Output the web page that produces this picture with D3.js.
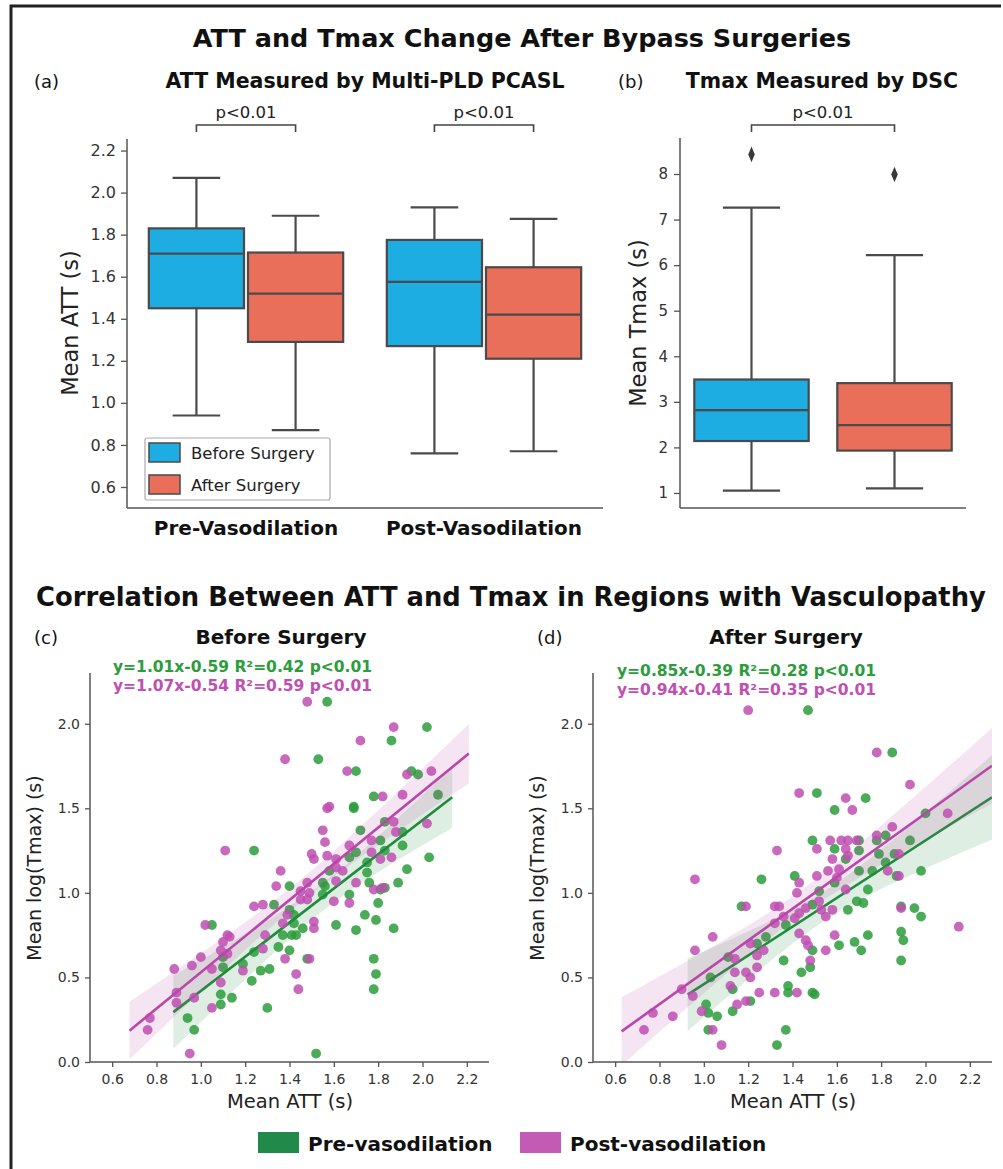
<!DOCTYPE html>
<html>
<head>
<meta charset="utf-8">
<script src="https://cdn.jsdelivr.net/npm/d3@7"></script>
<style>
  body { margin: 0; background: #fff; }
  text { font-family: "DejaVu Sans", sans-serif; }
</style>
</head>
<body>
<div id="chart"></div>
<script>
// ---- data ----
const groups = ["Pre-Vasodilation", "Post-Vasodilation"];
const surgery = ["Before Surgery", "After Surgery"];
// box stats: [lower whisker, q1, median, q3, upper whisker]
const attBefore = [[0.94, 1.45, 1.71, 1.83, 2.07], [0.76, 1.27, 1.575, 1.775, 1.93]];
const attAfter = [[0.87, 1.29, 1.52, 1.715, 1.89], [0.77, 1.21, 1.42, 1.645, 1.875]];
const tmaxStats = [[1.05, 2.14, 2.82, 3.49, 7.26], [1.1, 1.93, 2.49, 3.41, 6.22]];
const tmaxOutliers = [[8.43], [7.99]];
const attTicks = [0.6, 0.8, 1.0, 1.2, 1.4, 1.6, 1.8, 2.0, 2.2];
const tmaxTicks = [1, 2, 3, 4, 5, 6, 7, 8];
const corrXTicks = [0.6, 0.8, 1.0, 1.2, 1.4, 1.6, 1.8, 2.0, 2.2];
const corrYTicks = [0.0, 0.5, 1.0, 1.5, 2.0];
const vasoLabels = ["Pre-vasodilation", "Post-vasodilation"];

// (c) before surgery, [mean ATT, mean log(Tmax)]
const cPre = [[1.57,2.13],[2.02,1.98],[1.86,1.90],[1.53,1.79],[1.70,1.72],[1.95,1.72],[1.98,1.70],[1.78,1.57],[2.07,1.58],[1.69,1.51],[1.69,1.50],[1.83,1.42],[1.72,1.37],[1.91,1.36],[1.81,1.31],[1.91,1.28],[1.24,1.25],[1.67,1.21],[1.70,1.24],[1.83,1.25],[2.03,1.21],[1.58,1.13],[1.75,1.18],[1.75,1.12],[1.93,1.14],[1.40,1.04],[1.55,1.06],[1.56,1.04],[1.76,1.06],[1.81,1.02],[1.83,1.03],[1.89,1.06],[1.33,0.93],[1.55,0.99],[1.67,0.99],[1.80,0.94],[1.05,0.81],[1.40,0.90],[1.42,0.87],[1.42,0.82],[1.46,0.79],[1.61,0.81],[1.74,0.87],[1.79,0.84],[1.70,0.78],[1.87,0.79],[1.37,0.75],[1.41,0.75],[1.43,0.75],[1.35,0.68],[1.40,0.66],[1.24,0.65],[1.10,0.62],[1.10,0.56],[1.19,0.58],[1.27,0.54],[1.31,0.55],[1.48,0.61],[1.78,0.61],[1.23,0.48],[1.79,0.52],[1.78,0.43],[1.09,0.40],[1.14,0.38],[1.09,0.34],[1.30,0.32],[0.94,0.26],[0.97,0.19],[1.52,0.05]];
const cPost = [[1.48,2.13],[1.87,1.98],[1.72,1.90],[1.38,1.79],[1.66,1.72],[1.93,1.70],[2.04,1.72],[1.82,1.57],[1.91,1.58],[1.58,1.51],[1.57,1.50],[1.87,1.42],[2.02,1.41],[1.55,1.37],[1.88,1.36],[1.56,1.30],[1.67,1.28],[1.77,1.31],[1.11,1.25],[1.50,1.23],[1.51,1.20],[1.57,1.22],[1.77,1.24],[1.81,1.20],[1.86,1.21],[1.36,1.13],[1.61,1.20],[1.61,1.15],[1.64,1.13],[1.48,1.06],[1.34,1.04],[1.45,1.01],[1.49,1.00],[1.61,1.07],[1.70,1.06],[1.78,1.02],[1.82,1.03],[1.24,0.92],[1.28,0.93],[1.45,0.96],[1.48,0.96],[1.60,0.95],[1.67,0.94],[1.02,0.81],[1.39,0.87],[1.37,0.82],[1.51,0.83],[1.51,0.79],[1.12,0.75],[1.13,0.74],[1.29,0.75],[1.10,0.71],[1.09,0.66],[1.12,0.64],[1.28,0.67],[1.00,0.62],[0.96,0.57],[0.88,0.55],[1.05,0.55],[1.19,0.54],[1.38,0.61],[1.49,0.61],[1.09,0.47],[1.43,0.52],[1.44,0.43],[0.89,0.41],[0.89,0.35],[0.97,0.38],[1.05,0.32],[0.77,0.26],[0.76,0.19],[0.95,0.05]];
// (d) after surgery
const dPre = [[1.47,2.08],[1.85,1.83],[1.51,1.59],[1.73,1.56],[1.59,1.49],[2.00,1.47],[1.82,1.34],[1.49,1.31],[1.70,1.31],[1.78,1.31],[1.59,1.26],[1.70,1.25],[1.93,1.31],[1.79,1.23],[1.86,1.23],[1.82,1.18],[1.64,1.20],[1.70,1.13],[1.76,1.13],[1.98,1.13],[1.26,1.08],[1.41,1.10],[1.59,1.06],[1.52,1.01],[1.74,1.02],[1.87,1.10],[1.17,0.92],[1.49,0.93],[1.65,0.90],[1.69,0.95],[1.72,0.94],[1.89,0.92],[1.95,0.91],[1.98,0.86],[1.37,0.81],[1.24,0.70],[1.28,0.74],[1.61,0.69],[1.68,0.71],[1.74,0.75],[1.89,0.77],[1.90,0.72],[1.71,0.66],[1.11,0.62],[1.36,0.60],[1.49,0.66],[1.89,0.60],[1.03,0.50],[1.44,0.53],[1.48,0.56],[1.13,0.43],[1.38,0.45],[1.38,0.41],[1.49,0.41],[1.50,0.40],[1.01,0.34],[1.02,0.29],[1.06,0.27],[1.13,0.30],[1.21,0.36],[1.02,0.19],[1.37,0.19],[1.33,0.10]];
const dPost = [[1.20,2.08],[1.78,1.83],[1.93,1.64],[1.43,1.59],[1.64,1.56],[1.67,1.49],[2.10,1.47],[1.85,1.39],[1.78,1.34],[1.57,1.31],[1.62,1.31],[1.65,1.31],[1.69,1.31],[1.33,1.25],[1.51,1.26],[1.64,1.26],[1.88,1.23],[1.65,1.22],[1.58,1.20],[1.56,1.13],[1.61,1.14],[1.83,1.13],[0.96,1.08],[1.43,1.06],[1.51,1.10],[1.60,1.09],[1.42,1.00],[1.64,1.02],[1.88,1.10],[1.19,0.92],[1.32,0.92],[1.34,0.92],[1.46,0.91],[1.52,0.95],[1.53,0.90],[1.58,0.90],[1.89,0.91],[1.32,0.82],[1.36,0.86],[1.43,0.88],[1.41,0.85],[1.55,0.86],[1.04,0.74],[1.21,0.70],[1.43,0.76],[1.46,0.72],[1.47,0.69],[1.59,0.75],[0.96,0.66],[1.14,0.61],[1.24,0.63],[1.27,0.66],[1.48,0.60],[1.55,0.66],[1.14,0.53],[1.19,0.53],[1.21,0.50],[1.24,0.56],[0.90,0.43],[1.12,0.45],[1.25,0.41],[1.32,0.41],[1.42,0.41],[0.95,0.39],[0.99,0.30],[0.77,0.29],[0.86,0.27],[1.15,0.34],[1.19,0.36],[0.73,0.19],[1.04,0.19],[1.08,0.10],[2.15,0.80]];

// fitted lines [slope, intercept] and the x span each line is drawn over
const cFits = [[1.01, -0.59], [1.07, -0.54]];
const dFits = [[0.85, -0.39], [0.94, -0.41]];
const cSpans = [[0.876, 2.134], [0.678, 2.209]];
const dSpans = [[0.927, 2.30], [0.629, 2.30]];
const cEquations = ["y=1.01x-0.59 R²=0.42 p<0.01", "y=1.07x-0.54 R²=0.59 p<0.01"];
const dEquations = ["y=0.85x-0.39 R²=0.28 p<0.01", "y=0.94x-0.41 R²=0.35 p<0.01"];

// ---- styling ----
const boxFill = ["#1DADE2", "#EA6F5A"];
const boxLine = "#4a4a4a";
const dotColor = ["#2c9c3c", "#c04fb2"];
const lineColor = ["#1f8b3b", "#b947a9"];
const legendColor = ["#21894a", "#c35bb5"];
const tickColor = "#333";
const spineColor = "#555";

const W = 1003, H = 1169;
const svg = d3.select("#chart").append("svg")
    .attr("width", W).attr("height", H);
svg.append("rect").attr("width", W).attr("height", H).attr("fill", "#fff");

// frame around the figure (left and top edges show)
svg.append("path")
    .attr("d", "M11,1169V6H1001")
    .attr("fill", "none").attr("stroke", "#222").attr("stroke-width", 3);

function txt(x, y, s, size, opts = {}) {
    return svg.append("text")
        .attr("x", x).attr("y", y)
        .attr("text-anchor", opts.anchor || "middle")
        .attr("font-size", size)
        .attr("font-weight", opts.bold ? "bold" : "normal")
        .attr("fill", opts.fill || "#111")
        .attr("transform", opts.rotate ? `rotate(-90 ${x} ${y})` : null)
        .text(s);
}

function styleAxis(g, fontSize) {
    g.select(".domain").attr("stroke", spineColor).attr("stroke-width", 1.5);
    g.selectAll(".tick line").attr("stroke", spineColor).attr("stroke-width", 1.3);
    g.selectAll(".tick text").attr("fill", tickColor).attr("font-size", fontSize)
        .attr("font-family", "DejaVu Sans");
}

// ---- titles ----
txt(522, 47, "ATT and Tmax Change After Bypass Surgeries", 25.5, {bold: true});
txt(34, 88, "(a)", 18, {anchor: "start"});
txt(365, 88, "ATT Measured by Multi-PLD PCASL", 20.5, {bold: true});
txt(618, 88, "(b)", 18, {anchor: "start"});
txt(822, 88, "Tmax Measured by DSC", 20.5, {bold: true});

// ---- a simple box drawer ----
function drawBox(cx, w, st, fill, y) {
    const g = svg.append("g");
    const [lo, q1, med, q3, hi] = st;
    g.append("line").attr("x1", cx).attr("x2", cx).attr("y1", y(q3)).attr("y2", y(hi));
    g.append("line").attr("x1", cx).attr("x2", cx).attr("y1", y(q1)).attr("y2", y(lo));
    g.append("line").attr("x1", cx - w / 4).attr("x2", cx + w / 4).attr("y1", y(hi)).attr("y2", y(hi));
    g.append("line").attr("x1", cx - w / 4).attr("x2", cx + w / 4).attr("y1", y(lo)).attr("y2", y(lo));
    g.append("rect").attr("x", cx - w / 2).attr("width", w)
        .attr("y", y(q3)).attr("height", y(q1) - y(q3)).attr("fill", fill);
    g.append("line").attr("x1", cx - w / 2).attr("x2", cx + w / 2).attr("y1", y(med)).attr("y2", y(med));
    g.selectAll("line, rect").attr("stroke", boxLine).attr("stroke-width", 2.2);
    return g;
}

function bracket(xa, xb, yLine, label) {
    svg.append("path")
        .attr("d", `M${xa},${yLine + 7}V${yLine}H${xb}V${yLine + 7}`)
        .attr("fill", "none").attr("stroke", "#444").attr("stroke-width", 1.6);
    txt((xa + xb) / 2, yLine - 7, label, 16.5, {fill: "#222"});
}

// ---- panel (a) ----
const ya = d3.scaleLinear().domain([0.5, 2.255]).range([508, 139]);
const xa = d3.scaleBand().domain(groups).range([127, 603]);
const xaHue = d3.scaleBand().domain(surgery).range([0, xa.bandwidth()])
    .paddingInner(0.04).paddingOuter(0.22);
const attStats = [attBefore, attAfter];
groups.forEach((grp, gi) => {
    surgery.forEach((s, si) => {
        const cx = xa(grp) + xaHue(s) + xaHue.bandwidth() / 2;
        drawBox(cx, xaHue.bandwidth(), attStats[si][gi], boxFill[si], ya);
    });
    const c0 = xa(grp) + xaHue(surgery[0]) + xaHue.bandwidth() / 2;
    const c1 = xa(grp) + xaHue(surgery[1]) + xaHue.bandwidth() / 2;
    bracket(c0, c1, 125, "p<0.01");
});
const axA = svg.append("g").attr("transform", "translate(127,0)")
    .call(d3.axisLeft(ya).tickValues(attTicks).tickFormat(d3.format(".1f")).tickSize(6).tickPadding(5));
styleAxis(axA, 16);
axA.select(".domain").attr("d", `M0,${ya.range()[1]}V${ya.range()[0]}`);
svg.append("line").attr("x1", 127).attr("x2", 603).attr("y1", 508).attr("y2", 508)
    .attr("stroke", spineColor).attr("stroke-width", 1.5);
groups.forEach(grp => txt(xa(grp) + xa.bandwidth() / 2, 535, grp, 20, {bold: true}));
txt(78, 323, "Mean ATT (s)", 22.5, {rotate: true, fill: "#222"});

// legend in (a)
const lg = svg.append("g").attr("transform", "translate(145,438)");
lg.append("rect").attr("width", 185).attr("height", 62).attr("rx", 2)
    .attr("fill", "#fff").attr("stroke", "#aaa").attr("stroke-width", 1.2);
surgery.forEach((s, i) => {
    lg.append("rect").attr("x", 4).attr("y", 5 + i * 32).attr("width", 31).attr("height", 19)
        .attr("fill", boxFill[i]).attr("stroke", boxLine).attr("stroke-width", 1.5);
    lg.append("text").attr("x", 46).attr("y", 21 + i * 32).attr("font-size", 16.5)
        .attr("fill", "#222").text(s);
});

// ---- panel (b) ----
const yb = d3.scaleLinear().domain([0.67, 8.79]).range([508, 138]);
const xb = d3.scaleBand().domain(surgery).range([680, 966]).paddingInner(0.2).paddingOuter(0.1);
surgery.forEach((s, i) => {
    const cx = xb(s) + xb.bandwidth() / 2;
    drawBox(cx, xb.bandwidth(), tmaxStats[i], boxFill[i], yb);
    svg.selectAll(null).data(tmaxOutliers[i]).enter().append("path")
        .attr("d", d3.symbol(d3.symbolDiamond, 70))
        .attr("transform", d => `translate(${cx},${yb(d)}) scale(0.72,1)`)
        .attr("fill", "#3a3a3a");
});
bracket(xb(surgery[0]) + xb.bandwidth() / 2, xb(surgery[1]) + xb.bandwidth() / 2, 125, "p<0.01");
const axB = svg.append("g").attr("transform", "translate(680,0)")
    .call(d3.axisLeft(yb).tickValues(tmaxTicks).tickFormat(d3.format("d")).tickSize(6).tickPadding(6));
styleAxis(axB, 15);
axB.select(".domain").attr("d", `M0,${yb.range()[1]}V${yb.range()[0]}`);
svg.append("line").attr("x1", 680).attr("x2", 966).attr("y1", 508).attr("y2", 508)
    .attr("stroke", spineColor).attr("stroke-width", 1.5);
txt(646, 323, "Mean Tmax (s)", 22.5, {rotate: true, fill: "#222"});

// ---- correlation section ----
txt(511, 606, "Correlation Between ATT and Tmax in Regions with Vasculopathy", 25.8, {bold: true});

function ciBand(pts, fit, span) {
    const n = pts.length;
    const xm = d3.mean(pts, d => d[0]);
    const sxx = d3.sum(pts, d => (d[0] - xm) ** 2);
    const s = Math.sqrt(d3.sum(pts, d => (d[1] - (fit[0] * d[0] + fit[1])) ** 2) / (n - 2));
    return d3.range(0, 41).map(i => {
        const x = span[0] + (span[1] - span[0]) * i / 40;
        const h = 1.96 * s * Math.sqrt(1 / n + (x - xm) ** 2 / sxx);
        const yv = fit[0] * x + fit[1];
        return {x, lo: yv - h, hi: yv + h};
    });
}

function corrPanel(id, left, series, fits, spans, equations, tag, title, titleX, eqX, eqY) {
    const x = d3.scaleLinear().domain([0.5, 2.3]).range([left, left + 399]);
    const y = d3.scaleLinear().domain([0, 2.3]).range([1062, 673]);

    svg.append("clipPath").attr("id", id).append("rect")
        .attr("x", left).attr("y", 673).attr("width", 399).attr("height", 389);
    const plot = svg.append("g").attr("clip-path", `url(#${id})`);

    series.forEach((pts, i) => {
        const band = ciBand(pts, fits[i], spans[i]);
        plot.append("path").datum(band)
            .attr("d", d3.area().x(d => x(d.x)).y0(d => y(d.lo)).y1(d => y(d.hi)))
            .attr("fill", lineColor[i]).attr("fill-opacity", 0.15);
        plot.selectAll(null).data(pts).enter().append("circle")
            .attr("cx", d => x(d[0])).attr("cy", d => y(d[1])).attr("r", 4.9)
            .attr("fill", dotColor[i]).attr("fill-opacity", 0.85);
        plot.append("line")
            .attr("x1", x(spans[i][0])).attr("y1", y(fits[i][0] * spans[i][0] + fits[i][1]))
            .attr("x2", x(spans[i][1])).attr("y2", y(fits[i][0] * spans[i][1] + fits[i][1]))
            .attr("stroke", lineColor[i]).attr("stroke-width", 2.6);
    });

    const gx = svg.append("g").attr("transform", "translate(0,1062)")
        .call(d3.axisBottom(x).tickValues(corrXTicks).tickFormat(d3.format(".1f")).tickSize(5).tickPadding(7));
    styleAxis(gx, 14);
    gx.select(".domain").attr("d", `M${left},0H${left + 399}`);
    const gy = svg.append("g").attr("transform", `translate(${left},0)`)
        .call(d3.axisLeft(y).tickValues(corrYTicks).tickFormat(d3.format(".1f")).tickSize(5).tickPadding(5));
    styleAxis(gy, 14);
    gy.select(".domain").attr("d", "M0,673V1062");

    txt(left - 49, 868, "Mean log(Tmax) (s)", 19, {rotate: true, fill: "#222"});
    txt(left + 200, 1108, "Mean ATT (s)", 19.5, {fill: "#222"});
    txt(left - 56, 644, tag, 18, {anchor: "start"});
    txt(titleX, 644, title, 20, {bold: true});
    equations.forEach((e, i) => {
        txt(eqX, eqY[i], e, 15.5, {anchor: "start", bold: true, fill: dotColor[i]});
    });
}

corrPanel("clipC", 90, [cPre, cPost], cFits, cSpans, cEquations, "(c)", "Before Surgery", 281, 113, [672, 691]);
corrPanel("clipD", 593, [dPre, dPost], dFits, dSpans, dEquations, "(d)", "After Surgery", 786, 617, [676, 695]);

// ---- bottom legend ----
const bl = svg.append("g");
const legX = [258, 520];
vasoLabels.forEach((lab, i) => {
    bl.append("rect").attr("x", legX[i]).attr("y", 1132).attr("width", 41).attr("height", 21)
        .attr("fill", legendColor[i]);
    bl.append("text").attr("x", legX[i] + 50).attr("y", 1151).attr("font-size", 20)
        .attr("font-weight", "bold").attr("fill", "#111").text(lab);
});
</script>
</body>
</html>
